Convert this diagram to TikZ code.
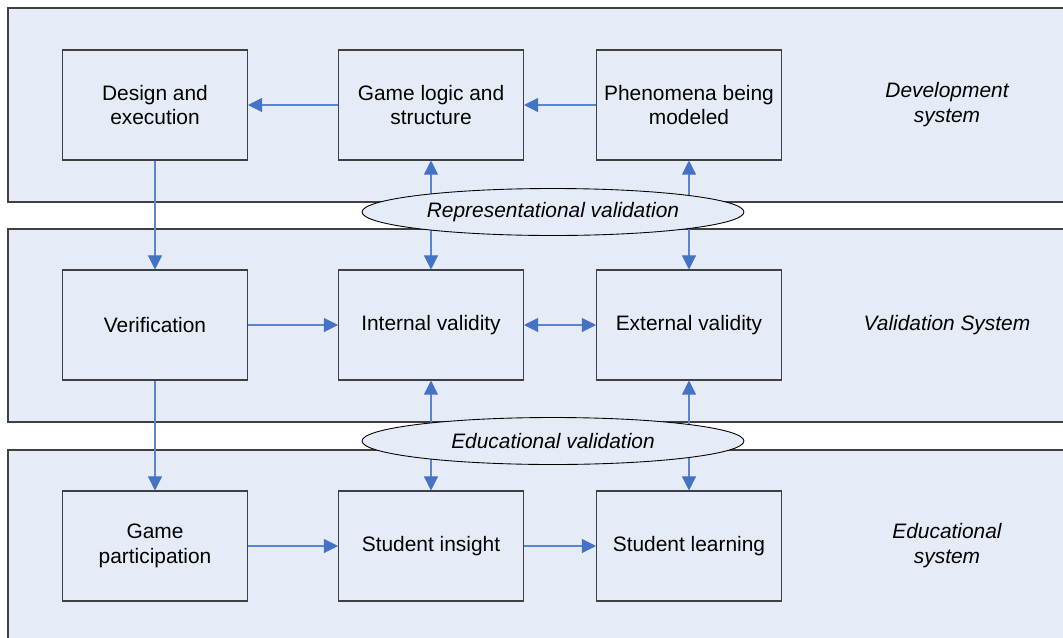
\documentclass[tikz,border=0pt]{standalone}
\usepackage{fontspec}
\setmainfont{Liberation Sans}
\usetikzlibrary{arrows.meta, shapes.geometric}
\definecolor{bandfill}{HTML}{E6ECF7}
\definecolor{boxline}{HTML}{404040}
\definecolor{arrline}{HTML}{5B86CF}
\definecolor{arrhead}{HTML}{4472C4}
\tikzset{
  band/.style  = {rectangle, draw=boxline, fill=bandfill, line width=0.6pt},
  blk/.style   = {rectangle, draw=boxline, fill=bandfill, line width=0.6pt,
                  align=center, font=\fontsize{11.9}{14.2}\selectfont,
                  minimum width=3.7cm, minimum height=2.2cm, inner sep=2pt},
  valell/.style= {ellipse, draw=black, fill=bandfill, line width=0.5pt,
                  font=\fontsize{11.9}{14.2}\selectfont\itshape,
                  minimum width=7.64cm, minimum height=0.94cm, inner sep=0pt},
  syslbl/.style= {align=center, font=\fontsize{11.9}{14.2}\selectfont\itshape},
  flow/.style  = {line width=0.6pt, draw=arrline,
                  arrows={-{Triangle[length=8pt, width=8pt, color=arrhead]}}},
  both/.style  = {{Triangle[length=8pt, width=8pt, color=arrhead]}-{Triangle[length=8pt, width=8pt, color=arrhead]},
                  line width=0.6pt, draw=arrline},
}
\begin{document}
\begin{tikzpicture}[x=0.02cm, y=-0.02cm]
  \clip (0,0) rectangle (1063,637);
  \fill[white] (0,0) rectangle (1063,637);
  % system bands
  \draw[band] (8,8) rectangle (1075,202);
  \draw[band] (8,229) rectangle (1075,422);
  \draw[band] (8,450) rectangle (1075,650);
  \node[syslbl] (devlbl) at (947,105) {Development\\system};
  \node[syslbl] (vallbl) at (947,325) {Validation System};
  \node[syslbl] (edulbl) at (947,546) {Educational\\system};
  % boxes
  \node[blk] (design) at (155,105) {Design and\\execution};
  \node[blk] (glogic) at (431,105) {Game logic and\\structure};
  \node[blk] (phen)   at (689,105) {Phenomena being\\modeled};
  \node[blk] (verif)  at (155,325) {Verification};
  \node[blk] (intval) at (431,325) {Internal validity};
  \node[blk] (extval) at (689,325) {External validity};
  \node[blk] (gpart)  at (155,546) {Game\\participation};
  \node[blk] (insight) at (431,546) {Student insight};
  \node[blk] (learn)  at (689,546) {Student learning};
  % connectors
  \foreach \a/\b in {glogic/design,phen/glogic,design/verif,verif/intval,verif/gpart,gpart/insight,insight/learn}{\draw[flow] (\a) -- (\b);}
  \foreach \a/\b in {glogic/intval,phen/extval,intval/insight,extval/learn,intval/extval}{\draw[both] (\a) -- (\b);}
  % validation ellipses
  \node[valell] (repval) at (553,212) {Representational validation};
  \node[valell] (eduval) at (553,441) {Educational validation};
\end{tikzpicture}
\end{document}
